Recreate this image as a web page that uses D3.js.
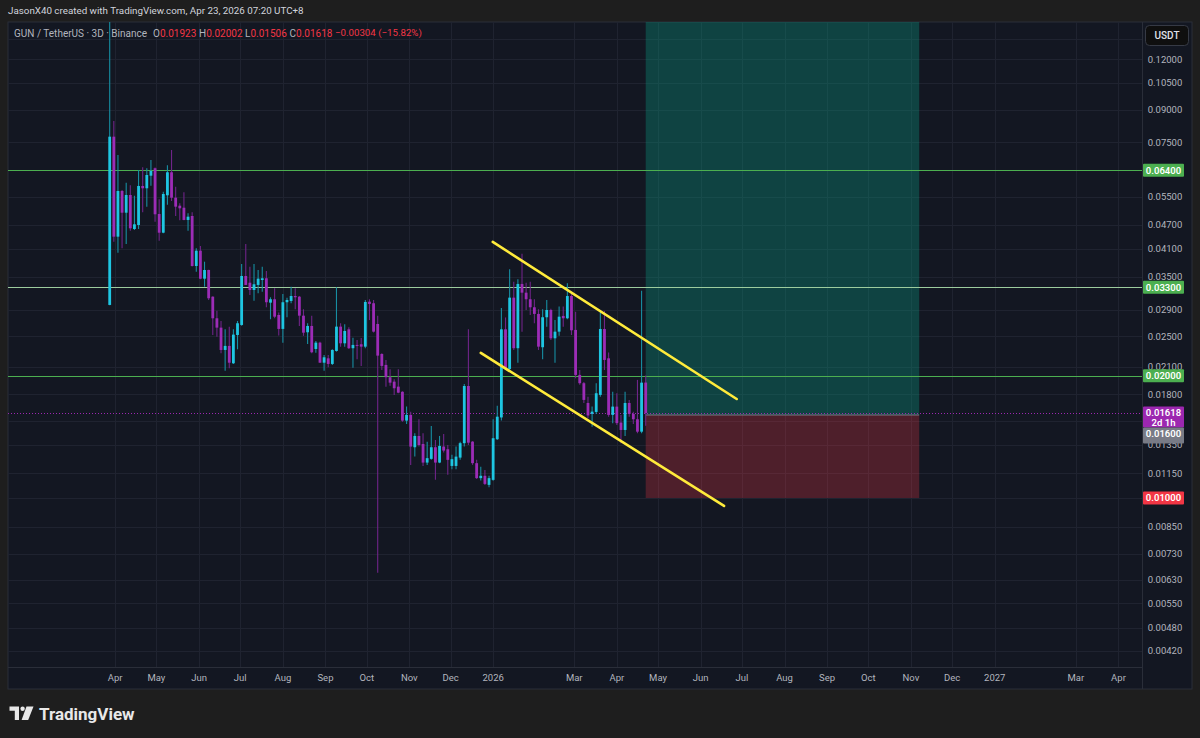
<!DOCTYPE html>
<html>
<head>
<meta charset="utf-8">
<script src="https://cdn.jsdelivr.net/npm/d3@7"></script>
<style>
  html, body { margin: 0; padding: 0; background: #1e1e1e; }
  svg { display: block; font-family: Roboto, "Noto Sans", sans-serif; }
</style>
</head>
<body>
<div id="chart"></div>
<script>
// GUN / TetherUS 3D candles
var firstBar = "2025-03-28";
var barDays = 3;

var barOpen = [0.02985,0.07744,0.04395,0.05693,0.05034,0.05565,0.04590,0.04695,0.05857,0.05781,
  0.06208,0.06475,0.04997,0.04495,0.05556,0.06330,0.05481,0.05238,0.05178,0.04831,
  0.04941,0.03722,0.04059,0.03464,0.03639,0.03128,0.02768,0.02625,0.02313,0.02367,
  0.02145,0.02518,0.02665,0.03517,0.03386,0.03249,0.03343,0.03438,0.03472,0.03024,
  0.03083,0.02820,0.02606,0.03031,0.03053,0.03140,0.03128,0.02809,0.02557,0.02650,
  0.02326,0.02411,0.02152,0.02206,0.02137,0.02300,0.02640,0.02402,0.02600,0.02336,
  0.02380,0.02389,0.02357,0.03041,0.03014,0.02680,0.02261,0.02125,0.01982,0.01933,
  0.01879,0.01825,0.01550,0.01601,0.01333,0.01421,0.01358,0.01222,0.01248,0.01333,
  0.01222,0.01338,0.01318,0.01199,0.01199,0.01257,0.01364,0.01886,0.01376,0.01218,
  0.01119,0.01134,0.01077,0.01108,0.01395,0.01578,0.02600,0.02077,0.03111,0.02336,
  0.03362,0.03200,0.03083,0.02946,0.02837,0.02349,0.02784,0.02901,0.02471,0.02566,
  0.02805,0.02768,0.03140,0.02591,0.02008,0.01916,0.01713,0.01610,0.01628,0.01793,
  0.02605,0.02206,0.01601,0.01678,0.01533,0.01470,0.01713,0.01610,0.01562,0.01456,
  0.01923];

var barHigh = [0.16000,0.08464,0.06981,0.05725,0.05968,0.05880,0.05543,0.06412,0.06512,0.06475,
  0.06786,0.06500,0.05431,0.05671,0.06585,0.07182,0.05834,0.05310,0.05652,0.05017,
  0.05046,0.04115,0.04169,0.03814,0.03645,0.03135,0.02890,0.02726,0.02600,0.02640,
  0.02600,0.02726,0.03764,0.04216,0.03708,0.03764,0.03639,0.03708,0.03618,0.03118,
  0.03280,0.02859,0.03176,0.03111,0.03311,0.03280,0.03140,0.02913,0.02691,0.02809,
  0.02434,0.02424,0.02248,0.02248,0.02322,0.03298,0.02691,0.02676,0.02631,0.02480,
  0.02448,0.02476,0.03070,0.03083,0.03070,0.02809,0.02270,0.02186,0.02073,0.01959,
  0.02073,0.01830,0.01678,0.01631,0.01443,0.01562,0.01443,0.01376,0.01504,0.01389,
  0.01421,0.01437,0.01350,0.01277,0.01338,0.01376,0.01907,0.02600,0.01380,0.01241,
  0.01193,0.01172,0.01134,0.01562,0.01686,0.02935,0.02781,0.03652,0.03405,0.03452,
  0.03987,0.03386,0.03405,0.03083,0.02913,0.02913,0.03070,0.02920,0.02742,0.02957,
  0.02957,0.03374,0.03188,0.02874,0.02065,0.01930,0.01775,0.01678,0.01916,0.02901,
  0.02885,0.02280,0.01825,0.01810,0.01601,0.01825,0.01743,0.01631,0.01952,0.03236,
  0.02002];

var barLow = [0.02980,0.04271,0.04013,0.04115,0.04216,0.04547,0.04565,0.04590,0.05046,0.05209,
  0.05867,0.04784,0.04295,0.04480,0.05268,0.05379,0.04941,0.04822,0.04820,0.04547,
  0.03710,0.03604,0.03455,0.03311,0.03070,0.02518,0.02494,0.02270,0.02057,0.02086,
  0.02137,0.02322,0.02654,0.03340,0.03158,0.03058,0.03189,0.03218,0.02946,0.02753,
  0.02768,0.02509,0.02411,0.02784,0.03014,0.02913,0.02650,0.02506,0.02393,0.02270,
  0.02278,0.02150,0.02057,0.02096,0.02125,0.02291,0.02357,0.02357,0.02326,0.02092,
  0.02194,0.02113,0.02336,0.02740,0.02554,0.00655,0.02065,0.01879,0.01888,0.01793,
  0.01810,0.01541,0.01521,0.01206,0.01264,0.01338,0.01199,0.01206,0.01241,0.01108,
  0.01218,0.01293,0.01140,0.01177,0.01177,0.01241,0.01338,0.01350,0.01206,0.01113,
  0.01104,0.01077,0.01063,0.01102,0.01389,0.01550,0.02065,0.02057,0.02313,0.02152,
  0.02566,0.02901,0.02820,0.02691,0.02313,0.02194,0.02640,0.02448,0.02152,0.02506,
  0.02640,0.02753,0.02518,0.01970,0.01898,0.01713,0.01571,0.01498,0.01610,0.01775,
  0.02065,0.01585,0.01528,0.01513,0.01363,0.01421,0.01585,0.01521,0.01443,0.01443,
  0.01506];

var barClose = [0.07744,0.04395,0.05693,0.05034,0.05565,0.04608,0.04714,0.05857,0.05781,0.06233,
  0.06376,0.04989,0.04495,0.05597,0.06330,0.05481,0.05209,0.05161,0.04831,0.04922,
  0.03722,0.04059,0.03464,0.03639,0.03100,0.02768,0.02625,0.02313,0.02367,0.02152,
  0.02523,0.02691,0.03517,0.03343,0.03249,0.03356,0.03464,0.03472,0.03031,0.03083,
  0.02793,0.02606,0.03031,0.03070,0.03140,0.03118,0.02809,0.02551,0.02650,0.02283,
  0.02411,0.02152,0.02219,0.02137,0.02313,0.02640,0.02402,0.02576,0.02336,0.02380,
  0.02367,0.02357,0.03036,0.03002,0.02566,0.02240,0.02113,0.01982,0.01922,0.01862,
  0.01816,0.01550,0.01601,0.01338,0.01421,0.01350,0.01222,0.01253,0.01333,0.01222,
  0.01343,0.01308,0.01241,0.01246,0.01264,0.01364,0.01886,0.01368,0.01218,0.01119,
  0.01134,0.01083,0.01119,0.01403,0.01585,0.02600,0.02085,0.03111,0.02336,0.03362,
  0.03200,0.03083,0.02946,0.02837,0.02357,0.02784,0.02901,0.02471,0.02566,0.02793,
  0.02768,0.03140,0.02586,0.02008,0.01916,0.01743,0.01596,0.01631,0.01810,0.02605,
  0.02186,0.01601,0.01678,0.01528,0.01470,0.01713,0.01610,0.01562,0.01456,0.01922,
  0.01618];

// Horizontal levels drawn on the chart
var levelPrices = [0.064, 0.033, 0.02];

// Price scale grid lines, and the labels that are not hidden behind a badge
var gridPrices = [0.135, 0.12, 0.105, 0.09, 0.075, 0.064, 0.055, 0.047, 0.041, 0.035, 0.029, 0.025,
  0.021, 0.018, 0.0155, 0.0135, 0.0115, 0.01, 0.0085, 0.0073, 0.0063, 0.0055, 0.0048, 0.0042];
var labelPrices = [0.12, 0.105, 0.09, 0.075, 0.055, 0.047, 0.041, 0.035, 0.029, 0.025,
  0.021, 0.018, 0.0135, 0.0115, 0.0085, 0.0073, 0.0063, 0.0055, 0.0048, 0.0042];

// Time scale ticks
var monthTicks = ["2025-04-01", "2025-05-01", "2025-06-01", "2025-07-01", "2025-08-01", "2025-09-01",
  "2025-10-01", "2025-11-01", "2025-12-01", "2026-01-01", "2026-03-01", "2026-04-01", "2026-05-01",
  "2026-06-01", "2026-07-01", "2026-08-01", "2026-09-01", "2026-10-01", "2026-11-01", "2026-12-01",
  "2027-01-01", "2027-03-01", "2027-04-01"];
var monthLabels = ["Apr", "May", "Jun", "Jul", "Aug", "Sep", "Oct", "Nov", "Dec", "2026", "Mar", "Apr",
  "May", "Jun", "Jul", "Aug", "Sep", "Oct", "Nov", "Dec", "2027", "Mar", "Apr"];

// Descending channel drawn by hand
var channelUpper = [["2025-12-31T17:00:00Z", 0.04265], ["2026-06-27T05:00:00Z", 0.01752]];
var channelLower = [["2025-12-23T00:00:00Z", 0.02274], ["2026-06-18T00:00:00Z", 0.009557]];

// Long position tool
var positionStart = "2026-04-22";
var positionEnd = "2026-11-07";
var entryPrice = 0.016;
var stopPrice = 0.01;
var targetPrice = 0.16;

var svgWidth = 1200;
var svgHeight = 738;

var pane = { left: 8, top: 22, right: 1192, bottom: 689 };
var plotRight = 1142;
var plotBottom = 667;

var bg = "#131722";
var upColor = "#1ec6e2";
var upWick = "#178ea2";
var downColor = "#9c2cb6";
var downWick = "#6f2488";
var textColor = "#b2b5be";
var gridColor = "#1f2330";

var svg = d3.select("#chart")
  .append("svg")
  .attr("width", svgWidth)
  .attr("height", svgHeight);

// outer frame
svg.append("rect")
  .attr("width", svgWidth)
  .attr("height", svgHeight)
  .attr("fill", "#1e1e1e");

svg.append("rect")
  .attr("x", pane.left)
  .attr("y", pane.top)
  .attr("width", pane.right - pane.left)
  .attr("height", pane.bottom - pane.top)
  .attr("fill", bg)
  .attr("stroke", "#2a2e39")
  .attr("stroke-width", 1);

svg.append("clipPath")
  .attr("id", "plotClip")
  .append("rect")
  .attr("x", pane.left)
  .attr("y", pane.top)
  .attr("width", plotRight - pane.left)
  .attr("height", plotBottom - pane.top);

// Build bar table
var n = barOpen.length;
var start = new Date(firstBar + "T00:00:00Z");
var bars = d3.range(n).map(function(i) {
  return {
    date: d3.utcDay.offset(start, i * barDays),
    open: barOpen[i],
    high: barHigh[i],
    low: barLow[i],
    close: barClose[i]
  };
});

// Scales
var x = d3.scaleUtc()
  .domain([bars[0].date, bars[n - 1].date])
  .range([109.7, 645.7]);

var y = d3.scaleLog()
  .domain([0.003838, 0.1483])
  .range([plotBottom, pane.top]);

var plot = svg.append("g").attr("clip-path", "url(#plotClip)");

// Grid
plot.append("g")
  .selectAll("line")
  .data(gridPrices)
  .enter()
  .append("line")
  .attr("x1", pane.left)
  .attr("x2", plotRight)
  .attr("y1", function(d) { return Math.round(y(d)) + 0.5; })
  .attr("y2", function(d) { return Math.round(y(d)) + 0.5; })
  .attr("stroke", gridColor);

plot.append("g")
  .selectAll("line")
  .data(monthTicks)
  .enter()
  .append("line")
  .attr("x1", function(d) { return Math.round(x(new Date(d))) + 0.5; })
  .attr("x2", function(d) { return Math.round(x(new Date(d))) + 0.5; })
  .attr("y1", pane.top)
  .attr("y2", plotBottom)
  .attr("stroke", gridColor);

// Position tool boxes
var px0 = x(new Date(positionStart));
var px1 = x(new Date(positionEnd));

plot.append("rect")
  .attr("x", px0)
  .attr("y", y(targetPrice))
  .attr("width", px1 - px0)
  .attr("height", y(entryPrice) - y(targetPrice))
  .attr("fill", "#089981")
  .attr("fill-opacity", 0.34);

plot.append("rect")
  .attr("x", px0)
  .attr("y", y(entryPrice))
  .attr("width", px1 - px0)
  .attr("height", y(stopPrice) - y(entryPrice))
  .attr("fill", "#f23645")
  .attr("fill-opacity", 0.27);

plot.append("line")
  .attr("x1", px0)
  .attr("x2", px1)
  .attr("y1", y(entryPrice))
  .attr("y2", y(entryPrice))
  .attr("stroke", "#787b86")
  .attr("stroke-width", 1);

// Horizontal levels
plot.append("g")
  .selectAll("line")
  .data(levelPrices)
  .enter()
  .append("line")
  .attr("x1", pane.left)
  .attr("x2", plotRight)
  .attr("y1", function(d) { return Math.round(y(d)) + 0.5; })
  .attr("y2", function(d) { return Math.round(y(d)) + 0.5; })
  .attr("stroke", function(d, i) { return i === 1 ? "#9ccc9e" : "#4caf50"; })
  .attr("stroke-width", 1);

// Last price dotted line
var last = bars[n - 1];
plot.append("line")
  .attr("x1", pane.left)
  .attr("x2", plotRight)
  .attr("y1", Math.round(y(last.close)) + 0.5)
  .attr("y2", Math.round(y(last.close)) + 0.5)
  .attr("stroke", "#9c27b0")
  .attr("stroke-dasharray", "1,2");

// Candles
var candles = plot.append("g").selectAll("g").data(bars).enter().append("g");

candles.append("line")
  .attr("x1", function(d) { return x(d.date); })
  .attr("x2", function(d) { return x(d.date); })
  .attr("y1", function(d) { return y(d.high); })
  .attr("y2", function(d) { return y(d.low); })
  .attr("stroke", function(d) { return d.close >= d.open ? upWick : downWick; })
  .attr("stroke-width", 1.1);

candles.append("rect")
  .attr("x", function(d) { return x(d.date) - 1.4; })
  .attr("width", 2.8)
  .attr("y", function(d) { return Math.min(y(d.open), y(d.close)); })
  .attr("height", function(d) { return Math.max(1, Math.abs(y(d.open) - y(d.close))); })
  .attr("fill", function(d) { return d.close >= d.open ? upColor : downColor; });

// Channel lines
[channelUpper, channelLower].forEach(function(pts) {
  plot.append("line")
    .attr("x1", x(new Date(pts[0][0])))
    .attr("y1", y(pts[0][1]))
    .attr("x2", x(new Date(pts[1][0])))
    .attr("y2", y(pts[1][1]))
    .attr("stroke", "#ffeb3b")
    .attr("stroke-width", 2.6)
    .attr("stroke-linecap", "round");
});

// Axis separators
svg.append("line")
  .attr("x1", plotRight + 0.5).attr("x2", plotRight + 0.5)
  .attr("y1", pane.top).attr("y2", pane.bottom)
  .attr("stroke", "#2a2e39");

svg.append("line")
  .attr("x1", pane.left).attr("x2", plotRight)
  .attr("y1", plotBottom + 0.5).attr("y2", plotBottom + 0.5)
  .attr("stroke", "#2a2e39");

// Price labels
var fmt = d3.format(".5f");
svg.append("g")
  .selectAll("text")
  .data(labelPrices)
  .enter()
  .append("text")
  .attr("x", 1165)
  .attr("y", function(d) { return y(d); })
  .attr("dy", "0.35em")
  .attr("text-anchor", "middle")
  .attr("font-size", "9.5px")
  .attr("fill", textColor)
  .text(function(d) { return fmt(d); });

// Time labels
svg.append("g")
  .selectAll("text")
  .data(monthTicks)
  .enter()
  .append("text")
  .attr("x", function(d) { return x(new Date(d)); })
  .attr("y", 678)
  .attr("dy", "0.35em")
  .attr("text-anchor", "middle")
  .attr("font-size", "9.5px")
  .attr("fill", textColor)
  .text(function(d, i) { return monthLabels[i]; });

// Price badges
function badge(color, top, h, lines) {
  svg.append("rect")
    .attr("x", 1143)
    .attr("y", top)
    .attr("width", 41)
    .attr("height", h)
    .attr("rx", 1)
    .attr("fill", color);
  lines.forEach(function(t, i) {
    svg.append("text")
      .attr("x", 1163.5)
      .attr("y", top + 6.5 + i * 10)
      .attr("dy", "0.35em")
      .attr("text-anchor", "middle")
      .attr("font-size", "9.5px")
      .attr("font-weight", 600)
      .attr("fill", "#ffffff")
      .text(t);
  });
}

levelPrices.forEach(function(p) {
  badge("#4caf50", y(p) - 6.5, 13, [fmt(p)]);
});
badge("#f23645", y(stopPrice) - 6.5, 13, [fmt(stopPrice)]);
var lastTop = y(last.close) - 6.5;
badge("#9c27b0", lastTop, 21, [fmt(last.close), "2d 1h"]);
badge("#787b86", lastTop + 21, 16, [fmt(entryPrice)]);

// USDT box
svg.append("rect")
  .attr("x", 1145.5).attr("y", 25.5)
  .attr("width", 43).attr("height", 20)
  .attr("rx", 4)
  .attr("fill", "#0f0f0f")
  .attr("stroke", "#363a45");
svg.append("text")
  .attr("x", 1167).attr("y", 35.5)
  .attr("dy", "0.35em")
  .attr("text-anchor", "middle")
  .attr("font-size", "10px")
  .attr("font-weight", 500)
  .attr("fill", "#e0e3eb")
  .text("USDT");

// Header
svg.append("text")
  .attr("x", 8).attr("y", 11)
  .attr("dy", "0.35em")
  .attr("font-size", "9.8px")
  .attr("fill", "#d1d4dc")
  .text("JasonX40 created with TradingView.com, Apr 23, 2026 07:20 UTC+8");

// Legend
var red = "#f23645";
var prevClose = bars[n - 2].close;
var change = last.close - prevClose;
var legendY = 33;
var legend = svg.append("g").attr("font-size", "10px");

legend.append("text")
  .attr("x", 14).attr("y", legendY).attr("dy", "0.35em")
  .attr("fill", textColor)
  .text("GUN / TetherUS · 3D · Binance");

[["O", last.open, 153], ["H", last.high, 199], ["L", last.low, 245], ["C", last.close, 289.5]].forEach(function(item) {
  var t = legend.append("text")
    .attr("x", item[2]).attr("y", legendY).attr("dy", "0.35em");
  t.append("tspan").attr("fill", textColor).text(item[0]);
  t.append("tspan").attr("fill", red).text(fmt(item[1]));
});

legend.append("text")
  .attr("x", 335).attr("y", legendY).attr("dy", "0.35em")
  .attr("font-size", "9.7px")
  .attr("fill", red)
  .text(fmt(change) + " (" + d3.format(".2f")(change / prevClose * 100) + "%)");

// TradingView logo
var logo = svg.append("g").attr("fill", "#e8e8e8");
logo.append("path").attr("d", "M9.5,706.5 H19 V720 H14.8 V710.8 H9.5 Z");
logo.append("circle").attr("cx", 22.6).attr("cy", 708.7).attr("r", 2.2);
logo.append("path").attr("d", "M26.5,706.5 H33.5 L28.2,720 H21.6 Z");
logo.append("text")
  .attr("x", 39).attr("y", 720)
  .attr("font-size", "17px")
  .attr("font-weight", 700)
  .attr("fill", "#e8e8e8")
  .text("TradingView");
</script>
</body>
</html>
